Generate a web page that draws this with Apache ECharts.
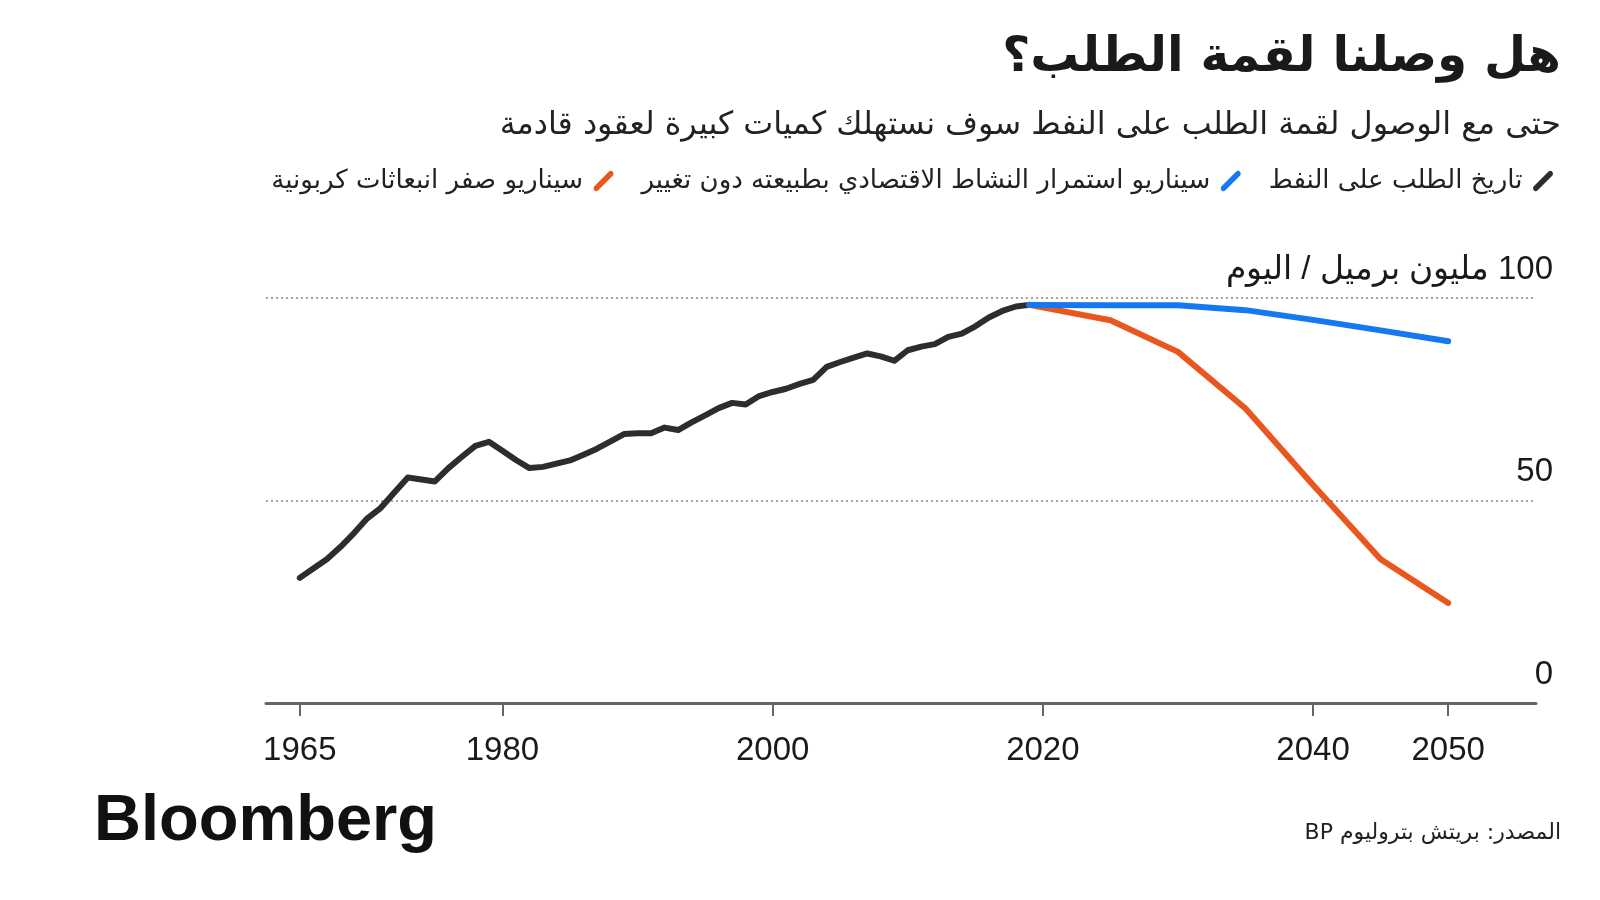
<!DOCTYPE html>
<html dir="rtl">
<head>
<meta charset="utf-8">
<script src="https://cdn.jsdelivr.net/npm/echarts@6/dist/echarts.min.js"></script>
<style>
html,body{margin:0;padding:0;background:#fff;}
#chart{width:1600px;height:900px;}
</style>
</head>
<body>
<div id="chart"></div>
<script>
// ---- data ----
const histYears = [1965,1966,1967,1968,1969,1970,1971,1972,1973,1974,1975,1976,1977,1978,1979,1980,1981,1982,1983,1984,1985,1986,1987,1988,1989,1990,1991,1992,1993,1994,1995,1996,1997,1998,1999,2000,2001,2002,2003,2004,2005,2006,2007,2008,2009,2010,2011,2012,2013,2014,2015,2016,2017,2018,2019];
const histValues = [30.9,33.2,35.5,38.5,41.9,45.6,48.2,52.0,55.7,55.2,54.7,58.0,60.8,63.5,64.5,62.3,60.0,58.0,58.3,59.1,59.9,61.3,62.8,64.6,66.4,66.6,66.6,68.0,67.4,69.3,71.0,72.8,74.1,73.7,75.8,76.8,77.6,78.8,79.8,83.0,84.2,85.3,86.3,85.6,84.5,87.1,88.0,88.6,90.4,91.2,93.0,95.2,96.8,97.9,98.3];
const scenYears = [2019,2025,2030,2035,2040,2045,2050];
const bauValues = [98.3,98.2,98.2,97.0,94.6,92.0,89.3];
const netZeroValues = [98.3,94.5,86.7,72.7,53.8,35.5,24.7];
const xTickLabels = [1965,1980,2000,2020,2040,2050];
const yTickLabels = [0,50,100];
const seriesNames = ['تاريخ الطلب على النفط','سيناريو استمرار النشاط الاقتصادي بطبيعته دون تغيير','سيناريو صفر انبعاثات كربونية'];
const titleText = 'هل وصلنا لقمة الطلب؟';
const subtitleText = 'حتى مع الوصول لقمة الطلب على النفط سوف نستهلك كميات كبيرة لعقود قادمة';
const unitText = 'مليون برميل / اليوم';
const sourceText = 'المصدر: بريتش بتروليوم BP';

const colors = ['#2d2d2d','#1479f0','#e9571f'];
const arabicFont = '"DejaVu Sans", sans-serif';
const numFont = '"Liberation Sans", Arial, sans-serif';
const slash = 'path://M0.9,16.9 L16.9,0.9 A3,3 0 0 1 21.1,5.1 L5.1,21.1 A3,3 0 0 1 0.9,16.9 Z';

const pair = (xs, ys) => xs.map((x, i) => [x, ys[i]]);

const chart = echarts.init(document.getElementById('chart'), null, {renderer:'canvas'});
chart.setOption({
  backgroundColor:'#fff',
  animation:false,
  grid:{left:266, right:64, top:298, bottom:197},
  legend:{
    right:42, top:163,
    align:'right',
    itemWidth:21, itemHeight:20, itemGap:28,
    data:[
      {name:seriesNames[2], icon:slash},
      {name:seriesNames[1], icon:slash},
      {name:seriesNames[0], icon:slash}
    ],
    textStyle:{fontFamily:arabicFont, fontSize:26, color:'#222', padding:[0,5,0,0]},
    selectedMode:false
  },
  xAxis:{
    type:'value', min:1962.5, max:2056.5,
    axisLine:{show:true, lineStyle:{color:'#666', width:3}},
    axisTick:{show:true, length:13, lineStyle:{color:'#666', width:2}, customValues:xTickLabels},
    axisLabel:{margin:31, fontFamily:numFont, fontSize:33, color:'#1a1a1a', customValues:xTickLabels, formatter:v=>String(v)},
    splitLine:{show:false}
  },
  yAxis:{
    type:'value', position:'right', min:0, max:100, interval:50,
    axisLine:{show:false}, axisTick:{show:false},
    axisLabel:{
      margin:17, align:'right', verticalAlign:'bottom', padding:[0,0,12,0],
      fontFamily:numFont, fontSize:33, color:'#1a1a1a',
      formatter:v => v===yTickLabels[2] ? (v+' '+unitText) : String(v)
    },
    splitLine:{show:true, lineStyle:{color:'#888', type:[2,3], width:1.5}}
  },
  series:[
    {name:seriesNames[0], type:'line', data:pair(histYears,histValues), showSymbol:false, symbol:'none',
     lineStyle:{color:colors[0], width:6, cap:'round', join:'round'}, itemStyle:{color:colors[0]}, z:3},
    {name:seriesNames[2], type:'line', data:pair(scenYears,netZeroValues), showSymbol:false, symbol:'none',
     lineStyle:{color:colors[2], width:6, cap:'round', join:'round'}, itemStyle:{color:colors[2]}, z:4},
    {name:seriesNames[1], type:'line', data:pair(scenYears,bauValues), showSymbol:false, symbol:'none',
     lineStyle:{color:colors[1], width:6, cap:'round', join:'round'}, itemStyle:{color:colors[1]}, z:5}
  ],
  graphic:[
    {type:'text', right:39, top:34, style:{text:titleText, font:'bold 48.5px '+arabicFont, fill:'#1a1a1a'}},
    {type:'text', right:39, top:110, style:{text:subtitleText, font:'31.8px '+arabicFont, fill:'#222'}},
    {type:'text', left:94, top:790, style:{text:'Bloomberg', font:'bold 65px '+numFont, fill:'#111'}},
    {type:'text', right:39, top:822, style:{text:sourceText, font:'22px '+arabicFont, fill:'#222'}}
  ]
});
</script>
</body>
</html>
